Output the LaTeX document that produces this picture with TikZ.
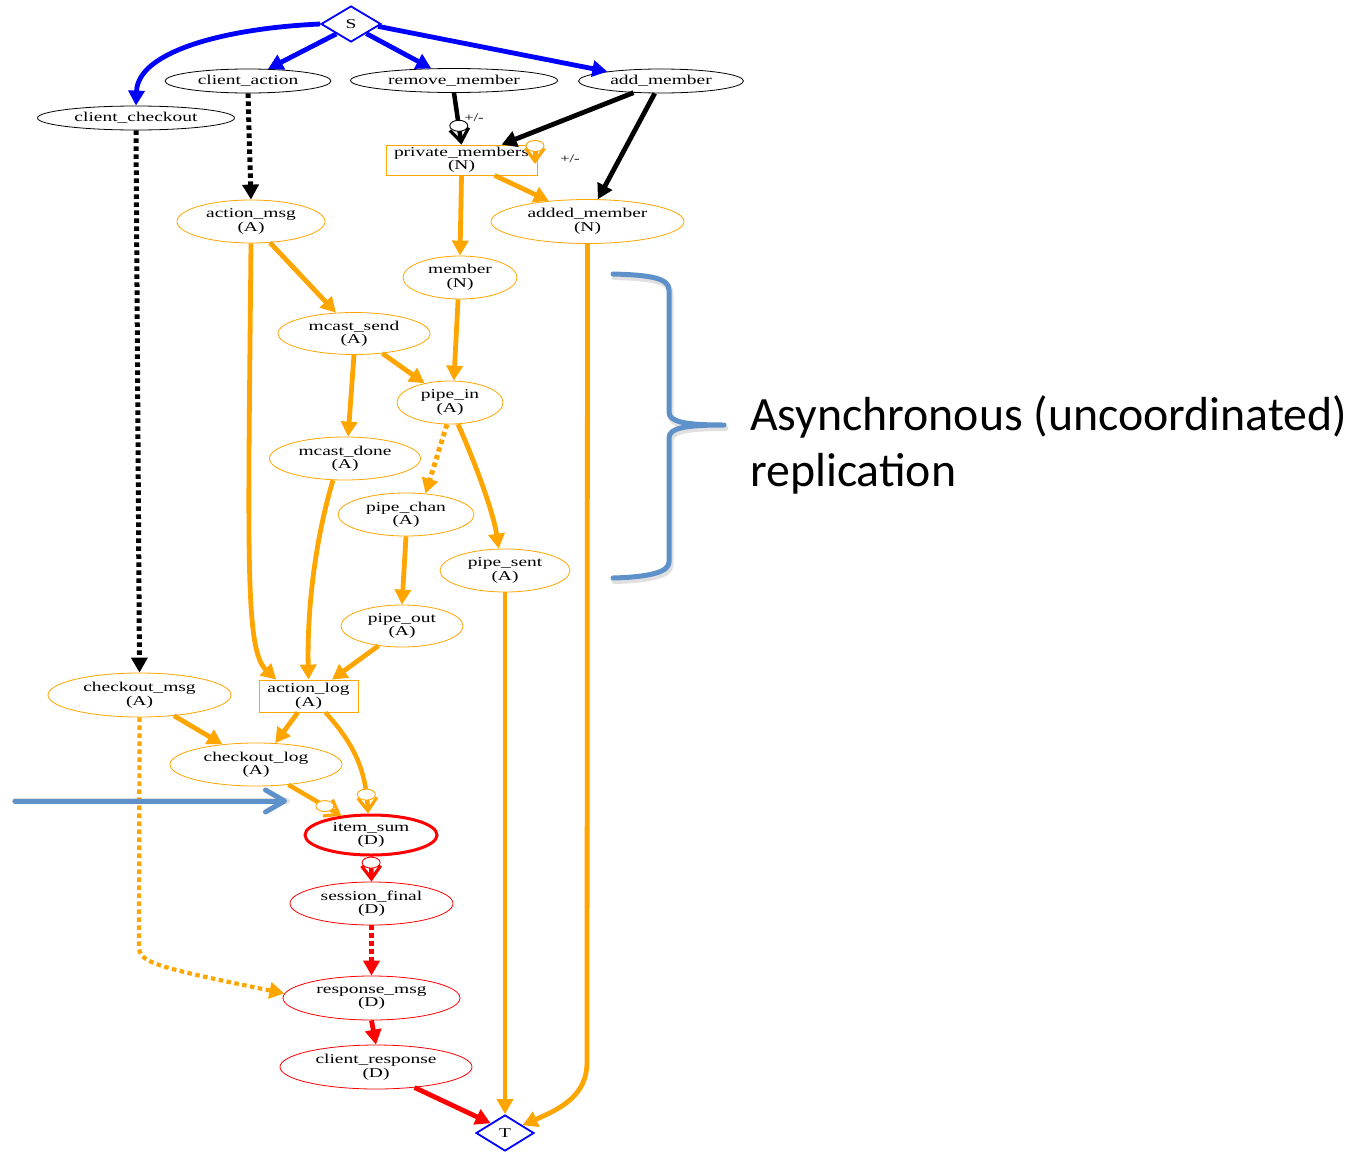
\documentclass[tikz,border=0pt]{standalone}
\usepackage{fontspec}
\setmainfont{Liberation Serif}
\newfontfamily\gvfont[FakeStretch=1.44]{Liberation Serif}
\newfontfamily\notefont{Carlito}
\usetikzlibrary{shapes.geometric,arrows.meta,decorations.markings}

\definecolor{gvorange}{RGB}{255,165,0}
\definecolor{gvred}{RGB}{255,0,0}
\definecolor{gvblue}{RGB}{0,0,255}
\definecolor{noteblue}{RGB}{94,145,202}

\tikzset{
  lbl/.style={font=\gvfont\fontsize{13.5}{13.5}\selectfont, align=center, inner sep=0pt},
  oval/.style={lbl, ellipse, draw, line width=0.8pt},
  topnode/.style={oval, draw=black},
  anode/.style={oval, draw=gvorange},
  dnode/.style={oval, draw=gvred},
  abox/.style={lbl, rectangle, draw=gvorange, line width=0.8pt},
  term/.style={lbl, diamond, draw=gvblue, line width=1.8pt},
  sz/.style 2 args={minimum width=#1pt, minimum height=#2pt},
  flow/.style={line width=4.8pt, -{Triangle[length=15pt,width=16pt]}},
  bflow/.style={flow, draw=gvblue},
  kflow/.style={flow, draw=black},
  oflow/.style={flow, draw=gvorange},
  rflow/.style={flow, draw=gvred},
  dotflow/.style={line width=5pt, dash pattern=on 4.5pt off 3.5pt},
  gatedot/.style={ellipse, fill=white, line width=0.9pt, minimum width=18pt, minimum height=11pt, inner sep=0pt},
  barbtip/.style={line width=4.5pt, -{Straight Barb[length=13pt,width=19pt,line width=3.2pt]}},
  gate/.style={barbtip, draw=#1, postaction={-, decorate},
    decoration={markings, mark=at position -19pt with {\node[gatedot, draw=#1] {};}}},
  pmlabel/.style={font=\gvfont\fontsize{11.5}{11.5}\selectfont, inner sep=0pt},
  notepen/.style={draw=noteblue, line width=5pt, line cap=round, line join=round},
  noteshade/.style={draw=black, opacity=0.12, line width=6pt, line cap=round, line join=round},
  notetext/.style={font=\notefont\fontsize{47.8}{56}\selectfont, inner sep=0pt, anchor=base west},
}

\begin{document}
\begin{tikzpicture}[x=1pt,y=-1pt]
\fill[white] (0,0) rectangle (1369,1154);
\path[use as bounding box] (0,0) rectangle (1369,1154);

% source and sink
\node[term, sz={60}{36}] (S) at (351,24) {S};
\node[term, sz={58}{36}] (T) at (505,1133) {T};

% client-facing inputs
\node[topnode, sz={197}{24}] (client_checkout) at (136,118) {client\_checkout};
\node[topnode, sz={166}{24}] (client_action) at (248,81) {client\_action};
\node[topnode, sz={207}{24}] (remove_member) at (454,80.5) {remove\_member};
\node[topnode, sz={165}{24}] (add_member) at (661,81) {add\_member};

% membership and replication
\node[abox, sz={151}{30}] (private_members) at (461.5,160) {private\_members\\(N)};
\node[anode, sz={148}{43}] (action_msg) at (251,221.5) {action\_msg\\(A)};
\node[anode, sz={193}{44}] (added_member) at (587.5,221.5) {added\_member\\(N)};
\node[anode, sz={114}{43}] (member) at (460,277.5) {member\\(N)};
\node[anode, sz={152}{42}] (mcast_send) at (354,333.5) {mcast\_send\\(A)};
\node[anode, sz={106}{43}] (pipe_in) at (450,402.5) {pipe\_in\\(A)};
\node[anode, sz={151}{43}] (mcast_done) at (345,458.5) {mcast\_done\\(A)};
\node[anode, sz={136}{43}] (pipe_chan) at (406,514.5) {pipe\_chan\\(A)};
\node[anode, sz={130}{43}] (pipe_sent) at (505,570.5) {pipe\_sent\\(A)};
\node[anode, sz={122}{42}] (pipe_out) at (402,626) {pipe\_out\\(A)};

% logging and checkout
\node[anode, sz={183}{44}] (checkout_msg) at (139.5,695) {checkout\_msg\\(A)};
\node[abox, sz={99}{32}] (action_log) at (308.5,696) {action\_log\\(A)};
\node[anode, sz={172}{43}] (checkout_log) at (256,764.5) {checkout\_log\\(A)};
\node[dnode, line width=3pt, sz={132}{40}] (item_sum) at (371,835) {item\_sum\\(D)};
\node[dnode, sz={163}{43}] (session_final) at (371.5,903.5) {session\_final\\(D)};
\node[dnode, sz={177}{44}] (response_msg) at (371.5,998) {response\_msg\\(D)};
\node[dnode, sz={192}{44}] (client_response) at (376,1067) {client\_response\\(D)};

% edge labels
\node[pmlabel] (pmA) at (474,118) {+/-};
\node[pmlabel] (pmB) at (570,159) {+/-};

% bend points and loop ends
\coordinate (loopA) at (535,146);
\coordinate (loopB) at (535,164);
\coordinate (amturn) at (587,1062);
\coordinate (ckturn) at (139,946);

% edges out of S
\draw[bflow] (S.west) .. controls (230,28) and (138,50) .. (client_checkout.north);
\draw[bflow] (S.214) -- (client_action.31);
\draw[bflow] (S.-32) -- (remove_member.152);
\draw[bflow] (S.-5) -- (add_member.170);

% black edges
\draw[kflow, dotflow] (client_action.south) -- (action_msg.north);
\draw[kflow, dotflow] (client_checkout.south) -- (checkout_msg.north);
\draw[gate=black] (remove_member.south) -- (private_members.north);
\draw[kflow] (add_member.-157) -- (private_members.21);
\draw[kflow] (add_member.243) -- (added_member.65);

% orange edges
\draw[barbtip, draw=gvorange] (loopA) -- (loopB) node[gatedot, draw=gvorange, pos=0] (loopdot) {};
\draw[oflow] (private_members.-25) -- (added_member.152);
\draw[oflow] (private_members.south) -- (member.north);
\draw[oflow] (action_msg.-48) -- (mcast_send.131);
\draw[oflow] (action_msg.south) .. controls (248,560) and (245,650) .. (action_log.153);
\draw[oflow] (added_member.south) -- (amturn) .. controls (587,1095) and (562,1108) .. (T.24);
\draw[oflow] (member.-95) -- (pipe_in.80);
\draw[oflow] (mcast_send.-35) -- (pipe_in.143);
\draw[oflow] (mcast_send.south) -- (mcast_done.82);
\draw[oflow, dotflow] (pipe_in.262) -- (pipe_chan.47);
\draw[oflow] (pipe_in.-70) .. controls (472,455) and (493,510) .. (pipe_sent.106);
\draw[oflow] (mcast_done.241) .. controls (315,540) and (307,610) .. (action_log.north);
\draw[oflow] (pipe_chan.south) -- (pipe_out.north);
\draw[oflow] (pipe_sent.south) -- (T.north);
\draw[oflow] (pipe_out.-140) -- (action_log.35);
\draw[oflow] (checkout_msg.-31) -- (checkout_log.149);
\draw[oflow, dotflow, line width=4.2pt] (checkout_msg.south) -- (ckturn) .. controls (139,962) and (150,966) .. (response_msg.177);
\draw[oflow] (action_log.237) -- (checkout_log.48);
\draw[gate=gvorange] (action_log.-44) .. controls (350,740) and (366,765) .. (item_sum.98);
\draw[gate=gvorange] (checkout_log.-32) -- (item_sum.147);

% red edges
\draw[gate=gvred] (item_sum.south) -- (session_final.north);
\draw[rflow, dotflow] (session_final.south) -- (response_msg.north);
\draw[rflow] (response_msg.south) -- (client_response.north);
\draw[rflow] (client_response.-28) -- (T.146);

% annotation: brace and caption
\draw[noteshade, shift={(1.5,3)}] (613,274) .. controls (650,275) and (669,278) .. (669,290) -- (669,412)
  .. controls (669,422) and (685,425) .. (724,425) .. controls (685,425) and (669,428) .. (669,438)
  -- (669,562) .. controls (669,572) and (650,577) .. (613,578);
\draw[notepen] (613,274) .. controls (650,275) and (669,278) .. (669,290) -- (669,412)
  .. controls (669,422) and (685,425) .. (724,425) .. controls (685,425) and (669,428) .. (669,438)
  -- (669,562) .. controls (669,572) and (650,577) .. (613,578);
\node[notetext] (asyncA) at (750,430) {Asynchronous (uncoordinated)};
\node[notetext] (asyncB) at (750,486) {replication};

% annotation: pointer arrow
\coordinate (noteA) at (15,801);
\coordinate (noteB) at (287,801);
\draw[noteshade, shift={(1.5,3)}] (noteA) -- (noteB);
\draw[notepen, -{Straight Barb[length=19pt,width=22pt,line width=5pt,round]}] (noteA) -- (noteB);
\end{tikzpicture}
\end{document}
